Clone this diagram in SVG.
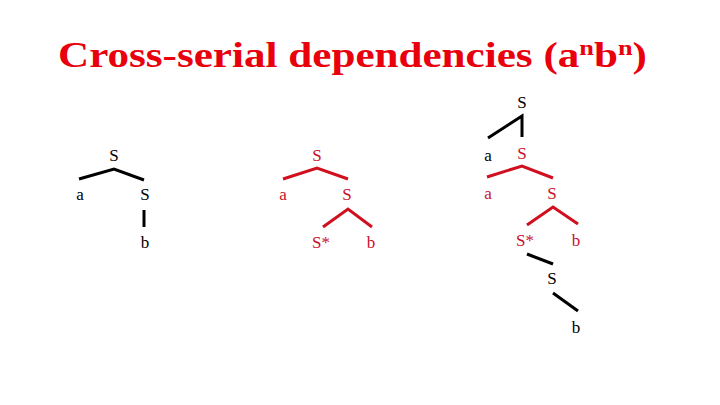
<svg xmlns="http://www.w3.org/2000/svg" width="720" height="405" viewBox="0 0 720 405">
<style>
.t{font-family:"Liberation Serif","Times New Roman",serif;font-size:17px;text-anchor:middle}
.k{fill:#000}
.r{fill:#c8102e}
.lk{stroke:#000;stroke-width:3;fill:none;stroke-linejoin:miter}
.lr{stroke:#d0101e;stroke-width:3;fill:none;stroke-linejoin:miter}
.title{font-family:"Liberation Serif","Times New Roman",serif;font-weight:bold;font-size:36px;fill:#e8000c}
</style>
<rect width="720" height="405" fill="#fff"/>
<text class="title" x="58" y="67" textLength="589" lengthAdjust="spacingAndGlyphs">Cross-serial dependencies (a<tspan font-size="22" dy="-12">n</tspan><tspan dy="12">b</tspan><tspan font-size="22" dy="-12">n</tspan><tspan dy="12">)</tspan></text>
<g id="connectors">
<polyline class="lk" points="79,179 114,169 144,180"/>
<line class="lk" x1="144" y1="210" x2="144" y2="227"/>
<polyline class="lr" points="283,179 317,168 348,179"/>
<polyline class="lr" points="323,227 348,209 372,227"/>
<polyline class="lk" points="488,138 522,116 522,137"/>
<polyline class="lr" points="487,177 522,166 553,178"/>
<polyline class="lr" points="527,225 553,207 578,224"/>
<line class="lk" x1="527" y1="254" x2="553" y2="264"/>
<line class="lk" x1="553" y1="293" x2="578" y2="311"/>
</g>
<g id="t1-S"><text class="t k" x="114" y="161">S</text></g>
<g id="t1-a"><text class="t k" x="80" y="200">a</text></g>
<g id="t1-S2"><text class="t k" x="145" y="200">S</text></g>
<g id="t1-b"><text class="t k" x="145" y="248">b</text></g>
<g id="t2-S"><text class="t r" x="317" y="161">S</text></g>
<g id="t2-a"><text class="t r" x="283" y="200">a</text></g>
<g id="t2-S2"><text class="t r" x="347" y="200">S</text></g>
<g id="t2-Sstar"><text class="t r" x="321" y="248">S*</text></g>
<g id="t2-b"><text class="t r" x="371" y="248">b</text></g>
<g id="t3-S"><text class="t k" x="522" y="108">S</text></g>
<g id="t3-a"><text class="t k" x="488" y="161">a</text></g>
<g id="t3-S2"><text class="t r" x="522" y="159">S</text></g>
<g id="t3-a2"><text class="t r" x="488" y="199">a</text></g>
<g id="t3-S3"><text class="t r" x="552" y="199">S</text></g>
<g id="t3-Sstar"><text class="t r" x="525" y="246">S*</text></g>
<g id="t3-b"><text class="t r" x="576" y="246">b</text></g>
<g id="t3-S4"><text class="t k" x="552" y="284">S</text></g>
<g id="t3-b2"><text class="t k" x="576" y="333">b</text></g>
</svg>
